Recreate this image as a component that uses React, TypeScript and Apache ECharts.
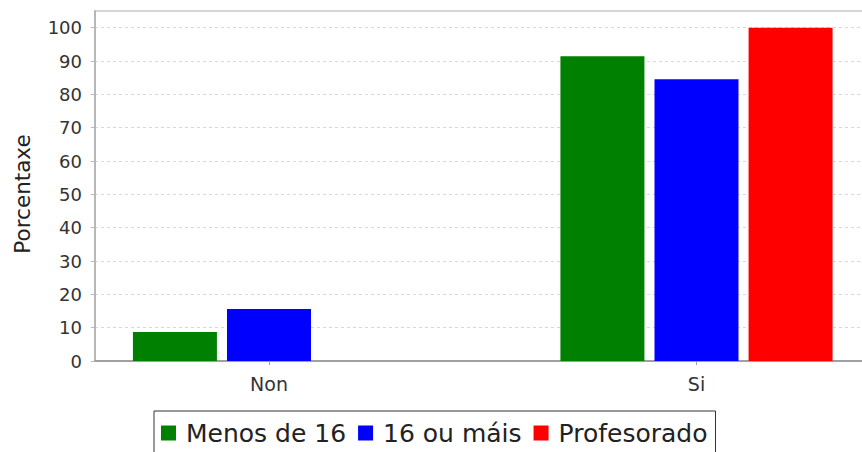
import React, { useEffect, useRef } from "react";
import * as echarts from "echarts";

const categories = ["Non", "Si"];
const seriesNames = ["Menos de 16", "16 ou máis", "Profesorado"];
const menosDe16 = [8.7, 91.4];
const dezaseisOuMais = [15.6, 84.5];
const profesorado = [0, 100];
const seriesColors = ["#008000", "#0000ff", "#ff0000"];
const yTicksMax = 105;
const yInterval = 10;

const FONT = "DejaVu Sans";

export default function App() {
  const ref = useRef<HTMLDivElement>(null);
  useEffect(() => {
    document.body.style.margin = "0";
    const chart = echarts.init(ref.current!, null, { renderer: "svg" });
    const values = [menosDe16, dezaseisOuMais, profesorado];
    chart.setOption({
      animation: false,
      backgroundColor: "#ffffff",
      textStyle: { fontFamily: FONT },
      grid: [
        {
          left: 95,
          width: 850,
          top: 11,
          height: 350,
          outerBoundsMode: "none",
          containLabel: false,
          show: true,
          borderColor: "#c8c8c8",
          borderWidth: 1.5,
          backgroundColor: "transparent",
        },
        {
          left: 55.25,
          width: 855,
          top: 11,
          height: 350,
          outerBoundsMode: "none",
          containLabel: false,
        },
      ],
      xAxis: [
        {
          type: "category",
          gridIndex: 0,
          data: categories,
          axisLine: { show: true, lineStyle: { color: "#a0a0a0", width: 2 } },
          axisTick: { show: false },
          axisLabel: { show: false },
        },
        {
          type: "category",
          gridIndex: 1,
          data: categories,
          axisLine: { show: false },
          axisTick: {
            show: true,
            alignWithLabel: true,
            length: 4,
            lineStyle: { color: "#a0a0a0" },
          },
          axisLabel: {
            margin: 13,
            fontSize: 19,
            color: "#333333",
            fontFamily: FONT,
          },
        },
      ],
      yAxis: [
        {
          type: "value",
          gridIndex: 0,
          min: 0,
          max: yTicksMax,
          interval: yInterval,
          name: "Porcentaxe",
          nameLocation: "middle",
          nameGap: 62,
          nameTextStyle: {
            fontSize: 21.5,
            color: "#222",
            fontFamily: FONT,
            padding: [0, 16, 0, 0],
          },
          axisLine: { show: true, lineStyle: { color: "#b8b8b8", width: 2 } },
          axisTick: { show: true, length: 4, lineStyle: { color: "#b8b8b8" } },
          axisLabel: {
            showMaxLabel: false,
            margin: 13,
            fontSize: 18,
            color: "#333333",
            fontFamily: FONT,
          },
          splitLine: {
            show: true,
            lineStyle: { color: "#d8d8d8", type: [3, 3], width: 1 },
          },
        },
        {
          type: "value",
          gridIndex: 1,
          min: 0,
          max: yTicksMax,
          interval: yInterval,
          show: false,
          splitLine: { show: false },
        },
      ],
      legend: {
        left: 154,
        top: 411,
        orient: "horizontal",
        icon: "rect",
        itemWidth: 15,
        itemHeight: 15,
        itemGap: 12,
        padding: [9, 8, 30, 7],
        borderColor: "#333333",
        borderWidth: 1,
        backgroundColor: "#ffffff",
        textStyle: {
          fontSize: 25,
          color: "#222",
          fontFamily: FONT,
          lineHeight: 26,
          padding: [0, 0, 0, 5],
        },
        data: seriesNames,
      },
      series: seriesNames.map((name, i) => ({
        name,
        type: "bar",
        xAxisIndex: 1,
        yAxisIndex: 1,
        data: values[i],
        barWidth: 84,
        barGap: "12%",
        itemStyle: { color: seriesColors[i] },
      })),
    });
    return () => chart.dispose();
  }, []);
  return <div ref={ref} style={{ width: 862, height: 452 }} />;
}
